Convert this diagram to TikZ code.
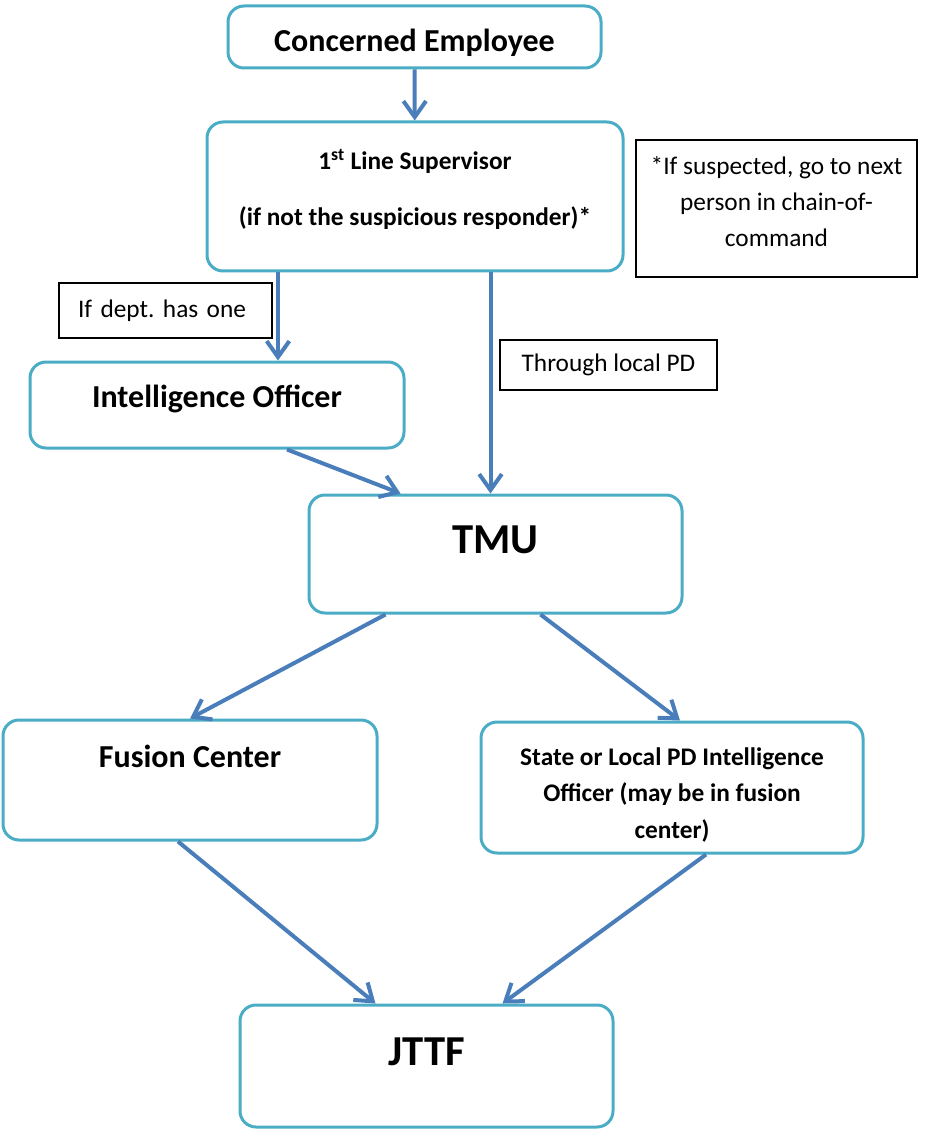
\documentclass[tikz,border=0pt]{standalone}
\usepackage{fontspec}
\setmainfont{Carlito}
\usepackage{xcolor}
\usetikzlibrary{arrows.meta}
\definecolor{boxteal}{HTML}{4BACC6}
\definecolor{arrowblue}{HTML}{4A7EBB}
\newcommand{\pixel}{0.75pt}

\begin{document}
\begin{tikzpicture}
	[
	x=0.75pt, y=-0.75pt,
	box/.style={
		draw=boxteal,
		line width=2.25pt,
		rounded corners=12pt,
		align=center,
		inner sep=0pt
	},
	note/.style={
		draw=black,
		line width=1pt,
		align=center,
		inner sep=0pt,
		font=\fontsize{19}{27}\selectfont
	},
	size/.style 2 args={
		minimum width=#1*\pixel,
		minimum height=#2*\pixel
	},
	lift/.style 2 args={
		text height=#1,
		text depth=#2
	},
	arrow/.style={
		-{Straight Barb[length=12pt, width=17pt]},
		draw=arrowblue,
		line width=3pt
	}
	]
	\useasboundingbox (0,0) rectangle (929,1130);
	
	% Reporting chain
	\node[box, size={373}{62}, lift={22.3pt}{0pt}, font=\fontsize{24}{29}\selectfont\bfseries] (concerned_employee) at (414.5,37)
	{Concerned Employee};
	
	\node[box, size={416}{149}, lift={43pt}{0pt}, font=\fontsize{19}{23}\selectfont\bfseries] (line_supervisor) at (415,196.5)
	{1\textsuperscript{st} Line Supervisor\\[19pt] (if not the suspicious responder)*};
	
	\node[box, size={374}{86}, lift={15.5pt}{12pt}, font=\fontsize{24}{29}\selectfont\bfseries] (intelligence_officer) at (217,405)
	{Intelligence Officer};
	
	\node[box, size={373}{118}, lift={20.6pt}{21pt}, font=\fontsize{32}{38}\selectfont\bfseries] (tmu) at (495.5,554)
	{TMU};
	
	% Second level
	\node[box, size={374}{120}, lift={15.5pt}{34.5pt}, font=\fontsize{24}{29}\selectfont\bfseries] (fusion_center) at (190,780)
	{Fusion Center};
	
	\node[box, size={382}{131}, lift={76pt}{0pt}, font=\fontsize{19}{27.4}\selectfont\bfseries] (state_local_pd) at (672,787.5)
	{State or Local PD Intelligence\\Officer (may be in fusion\\center)};
	
	\node[box, size={373}{122}, lift={20.6pt}{21pt}, font=\fontsize{32}{38}\selectfont\bfseries] (jttf) at (426.5,1066)
	{JTTF};
	
	% Side notes
	\node[note, size={281}{137}, lift={57.2pt}{0pt}] (chain_note) at (776.5,208.5)
	{*If suspected, go to next\\person in chain-of-\\command};
	
	\node[note, size={213}{55}, align=left, text width=175*\pixel] (dept_note) at (165.5,310.5)
	{If dept.\ has one};
	
	\node[note, size={217}{50}] (local_pd_note) at (608.5,365)
	{Through local PD};
	
	% Arrows
	\draw[arrow] (concerned_employee) -- (line_supervisor);
	\draw[arrow] ([xshift=61*\pixel]intelligence_officer.north |- line_supervisor.south) -- ([xshift=61*\pixel]intelligence_officer.north);
	\draw[arrow] ([xshift=-5*\pixel]tmu.north |- line_supervisor.south) -- ([xshift=-5*\pixel]tmu.north);
	\draw[arrow] ([xshift=70*\pixel]intelligence_officer.south) -- ([xshift=93*\pixel]tmu.north west);
	
	\draw[arrow] ([xshift=-110*\pixel]tmu.south) -- (fusion_center.north);
	\draw[arrow] ([xshift=45*\pixel]tmu.south) -- ([xshift=8*\pixel]state_local_pd.north);
	
	\draw[arrow] ([xshift=-12*\pixel]fusion_center.south) -- ([xshift=-51*\pixel]jttf.north);
	\draw[arrow] ([xshift=34*\pixel]state_local_pd.south) -- ([xshift=76*\pixel]jttf.north);
	
\end{tikzpicture}
\end{document}
